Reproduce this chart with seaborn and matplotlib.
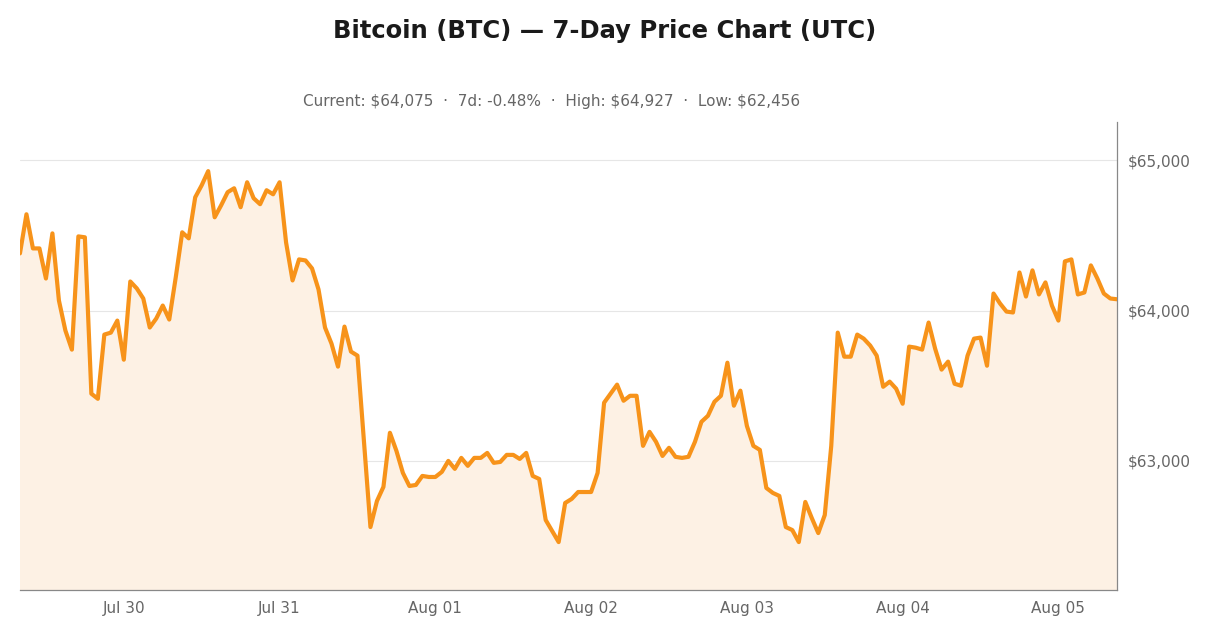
import matplotlib
matplotlib.use("Agg")
import matplotlib.pyplot as plt
import matplotlib.dates as mdates
import seaborn as sns
import pandas as pd

prices = [64380, 64640, 64413, 64413, 64213, 64513, 64067, 63867, 63740, 64493,
          64487, 63447, 63413, 63840, 63853, 63933, 63673, 64193, 64147, 64080,
          63887, 63947, 64033, 63940, 64220, 64520, 64480, 64753, 64833, 64927,
          64620, 64700, 64787, 64813, 64687, 64853, 64747, 64707, 64800, 64773,
          64853, 64453, 64200, 64340, 64333, 64280, 64140, 63887, 63780, 63627,
          63893, 63727, 63700, 63133, 62560, 62733, 62827, 63187, 63067, 62920,
          62833, 62840, 62900, 62893, 62893, 62927, 63000, 62947, 63020, 62967,
          63020, 63020, 63053, 62987, 62993, 63040, 63040, 63013, 63053, 62900,
          62880, 62607, 62533, 62460, 62720, 62747, 62793, 62793, 62793, 62920,
          63387, 63447, 63507, 63400, 63433, 63433, 63100, 63193, 63127, 63033,
          63087, 63027, 63020, 63027, 63127, 63260, 63300, 63393, 63433, 63653,
          63367, 63467, 63233, 63100, 63073, 62820, 62787, 62767, 62560, 62540,
          62460, 62727, 62620, 62520, 62640, 63100, 63853, 63693, 63693, 63840,
          63813, 63767, 63700, 63493, 63527, 63480, 63380, 63760, 63753, 63740,
          63920, 63747, 63607, 63660, 63513, 63500, 63700, 63813, 63820, 63633,
          64113, 64047, 63993, 63987, 64253, 64093, 64267, 64107, 64187, 64033,
          63933, 64327, 64340, 64107, 64120, 64300, 64213, 64113, 64080, 64075]
times = pd.date_range(end="2024-08-05 09:00", periods=len(prices), freq="h")
yticks = [63000, 64000, 65000]
ytick_labels = ["$63,000", "$64,000", "$65,000"]
xtick_dates = pd.date_range("2024-07-30", "2024-08-05", freq="D")
xtick_labels = ["Jul 30", "Jul 31", "Aug 01", "Aug 02", "Aug 03", "Aug 04", "Aug 05"]

df = pd.DataFrame({"time": times, "price": prices})

sns.set_style("white")
fig = plt.figure(figsize=(12.1, 6.36), dpi=100)
ax = fig.add_axes([0.0165, 0.072, 0.9065, 0.736])
ymin, ymax = 62140, 65253
ax.fill_between(df["time"], df["price"], ymin, color="#FDF1E4", zorder=1)
sns.lineplot(data=df, x="time", y="price", ax=ax, color="#F7931A", linewidth=3, zorder=3)
ax.set_ylim(ymin, ymax)
ax.set_xlim(times[0], times[-1])
ax.yaxis.tick_right()
ax.set_yticks(yticks)
ax.set_yticklabels(ytick_labels)
ax.set_xticks(xtick_dates)
ax.set_xticklabels(xtick_labels)
ax.tick_params(axis="both", colors="#666666", labelsize=11, length=0, pad=8)
ax.grid(axis="y", color="#E6E6E6", linewidth=0.8, zorder=0)
ax.set_xlabel("")
ax.set_ylabel("")
for s in ["top", "left"]:
    ax.spines[s].set_visible(False)
for s in ["right", "bottom"]:
    ax.spines[s].set_color("#888888")
    ax.spines[s].set_linewidth(0.9)

fig.text(0.5, 0.951, "Bitcoin (BTC) — 7-Day Price Chart (UTC)", ha="center", va="center",
         fontsize=17.5, fontweight="bold", color="#1a1a1a")
fig.text(0.4555, 0.841, "Current: $64,075  ·  7d: -0.48%  ·  High: $64,927  ·  Low: $62,456",
         ha="center", va="center", fontsize=11, color="#666666")
fig.savefig("out.png", dpi=100)
